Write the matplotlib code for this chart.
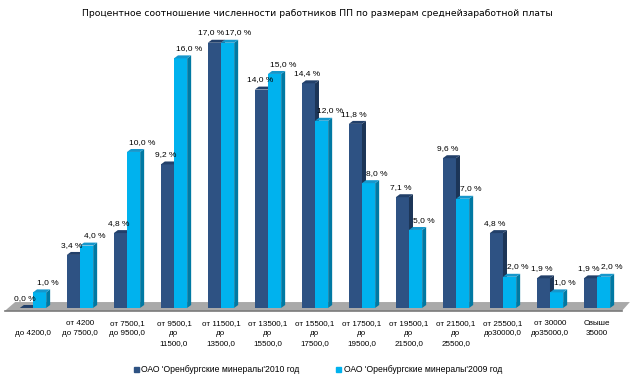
import matplotlib
matplotlib.use("Agg")
import matplotlib.pyplot as plt
import matplotlib.patches as mpatches
from matplotlib.patches import Polygon

categories = [
    "\nдо 4200,0",
    "от 4200\nдо 7500,0",
    "от 7500,1\nдо 9500,0",
    "от 9500,1\nдо\n11500,0",
    "от 11500,1\nдо\n13500,0",
    "от 13500,1\nдо\n15500,0",
    "от 15500,1\nдо\n17500,0",
    "от 17500,1\nдо\n19500,0",
    "от 19500,1\nдо\n21500,0",
    "от 21500,1\nдо\n25500,0",
    "от 25500,1\nдо30000,0",
    "от 30000\nдо35000,0",
    "Свыше\n35000",
]
values_2010 = [0.0, 3.4, 4.8, 9.2, 17.0, 14.0, 14.4, 11.8, 7.1, 9.6, 4.8, 1.9, 1.9]
values_2009 = [1.0, 4.0, 10.0, 16.0, 17.0, 15.0, 12.0, 8.0, 5.0, 7.0, 2.0, 1.0, 2.0]
series_names = ["ОАО 'Оренбургские минералы'2010 год",
                "ОАО 'Оренбургские минералы'2009 год"]
title = "Процентное соотношение численности работников ПП по размерам среднейзаработной платы"

# colours: front, side, top
dark = ("#2E5283", "#1C3557", "#22406A")
light = ("#00B2EE", "#0079A3", "#1597CC")

W = 0.28      # bar width in category units
DX = 0.085    # 3d depth offset (x)
DY = 0.19     # 3d depth offset (y, percent)
FONT = "Liberation Sans"

fig = plt.figure(figsize=(6.33, 3.88), dpi=100)
ax = fig.add_axes([0, 0, 1, 1])
ax.set_xlim(-0.702, 12.766)
ax.set_ylim(-5.13, 19.74)
ax.axis("off")

# floor
n = len(categories)
floor = Polygon([(-0.6, -0.19), (n - 1 + 0.53, -0.19), (n - 1 + 0.7, 0.38), (-0.38, 0.38)],
                closed=True, facecolor="#A9A9A9", edgecolor="none", zorder=1)
ax.add_patch(floor)
ax.plot([-0.6, n - 1 + 0.53], [-0.19, -0.19], color="#7A7A7A", lw=1.2, zorder=1)


def bar3d(x0, v, cols):
    x1 = x0 + W
    ax.bar(x0, v, width=W, align="edge", color=cols[0], edgecolor="none", zorder=3)
    ax.add_patch(Polygon([(x1, 0), (x1 + DX, DY), (x1 + DX, v + DY), (x1, v)],
                         closed=True, facecolor=cols[1], edgecolor="none", zorder=3))
    ax.add_patch(Polygon([(x0, v), (x1, v), (x1 + DX, v + DY), (x0 + DX, v + DY)],
                         closed=True, facecolor=cols[2], edgecolor="none", zorder=3))


for i, v in enumerate(values_2010):
    bar3d(i - W, v, dark)
for i, v in enumerate(values_2009):
    bar3d(i, v, light)

fmt = lambda v: f"{v:.1f} %".replace(".", ",")
for i, (a, b) in enumerate(zip(values_2010, values_2009)):
    # spread apart when both labels sit at the same height
    spread = 0.05 if abs(a - b) < 0.8 and a > 5 else 0.0
    ax.text(i - 0.17 - spread, a + 0.4, fmt(a), ha="center", va="bottom",
            fontsize=6.0, family=FONT, zorder=5)
    ax.text(i + 0.32 + spread, b + 0.4, fmt(b), ha="center", va="bottom",
            fontsize=6.0, family=FONT, zorder=5)

for i, lbl in enumerate(categories):
    ax.text(i, -0.8, lbl, ha="center", va="top", fontsize=5.8, family=FONT,
            linespacing=1.6)

fig.text(0.502, 0.966, title, ha="center", va="center", fontsize=6.7)

fig.legend(handles=[mpatches.Patch(color=dark[0], label=series_names[0]),
                    mpatches.Patch(color=light[0], label=series_names[1])],
           loc="center", bbox_to_anchor=(0.502, 1 - 370 / 388), ncol=2, frameon=False,
           prop={"family": FONT, "size": 6.2}, handlelength=0.6, handleheight=0.6,
           handletextpad=0.3, columnspacing=4.2)

fig.savefig("out.png", dpi=100)
